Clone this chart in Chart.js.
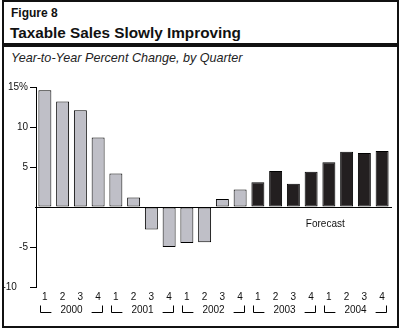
<!DOCTYPE html>
<html>
<head>
<meta charset="utf-8">
<script src="https://cdn.jsdelivr.net/npm/chart.js@4.4.1/dist/chart.umd.min.js"></script>
<style>
  html, body { margin: 0; padding: 0; background: #fff; }
  body { width: 400px; height: 331px; position: relative; overflow: hidden; font-family: "Liberation Sans", Arial, sans-serif; }
  #frame { position: absolute; left: 2px; top: 0px; width: 397px; height: 328px; box-sizing: border-box; border: 2px solid #111; }
  #fig { position: absolute; left: 11px; top: 6px; font-weight: bold; font-size: 12px; color: #111; }
  #title { position: absolute; left: 10px; top: 24px; font-weight: bold; font-size: 15.3px; color: #111; white-space: nowrap; }
  #rule { position: absolute; left: 2px; top: 43px; width: 397px; height: 4px; background: #111; }
  #sub { position: absolute; left: 11px; top: 51px; font-style: italic; font-size: 12.6px; color: #222; white-space: nowrap; }
  canvas { position: absolute; left: 0; top: 0; }
</style>
</head>
<body>
<div id="frame"></div>
<div id="fig">Figure 8</div>
<div id="title">Taxable Sales Slowly Improving</div>
<div id="rule"></div>
<div id="sub">Year-to-Year Percent Change, by Quarter</div>
<canvas id="c" width="400" height="331"></canvas>
<script>
const years = ['2000', '2001', '2002', '2003', '2004'];
const quarters = ['1', '2', '3', '4'];
const values = [14.6, 13.2, 12.1, 8.7, 4.2, 1.2, -2.8, -5.0, -4.5, -4.4, 1.0, 2.2, 3.1, 4.5, 2.9, 4.4, 5.6, 6.9, 6.75, 7.0];
const forecastStart = 12; // first forecast quarter index (2003 Q1)
const yMin = -10, yMax = 15, yStep = 5;
const forecastLabel = 'Forecast';

const labels = [];
years.forEach(() => quarters.forEach(q => labels.push(q)));

const actualColor = '#bfbfc7';
const forecastColor = '#231f20';

const decor = {
  id: 'decor',
  afterDatasetsDraw(chart) {
    const ctx = chart.ctx;
    const x = chart.scales.x, y = chart.scales.y;
    const area = chart.chartArea;
    ctx.save();
    // zero line
    const y0 = Math.round(y.getPixelForValue(0)) + 0.5;
    ctx.strokeStyle = '#000';
    ctx.lineWidth = 1;
    ctx.beginPath();
    ctx.moveTo(area.left - 1, y0);
    ctx.lineTo(area.right + 1, y0);
    ctx.stroke();
    // Forecast label
    ctx.fillStyle = '#111';
    ctx.font = '10px "Liberation Sans", Arial, sans-serif';
    ctx.textAlign = 'center';
    ctx.textBaseline = 'middle';
    ctx.fillText(forecastLabel, x.getPixelForValue(15.8), y.getPixelForValue(-2.1));
    // year brackets
    const top = 305.5, bot = 312.5, ty = 310;
    years.forEach((yr, k) => {
      const l = Math.round(x.getPixelForValue(k * 4) - 5) + 0.5;
      const r = Math.round(x.getPixelForValue(k * 4 + 3) + 4) + 0.5;
      const c = (l + r) / 2;
      const tw = ctx.measureText(yr).width;
      ctx.beginPath();
      ctx.moveTo(l, top); ctx.lineTo(l, bot); ctx.lineTo(c - tw / 2 - 9, bot);
      ctx.moveTo(c + tw / 2 + 9, bot); ctx.lineTo(r, bot); ctx.lineTo(r, top);
      ctx.stroke();
      ctx.fillText(yr, c, ty);
    });
    ctx.restore();
  }
};

new Chart(document.getElementById('c'), {
  type: 'bar',
  data: {
    labels: labels,
    datasets: [{
      data: values,
      backgroundColor: values.map((v, i) => i >= forecastStart ? forecastColor : actualColor),
      borderColor: '#000',
      borderWidth: 1,
      borderSkipped: false,
      categoryPercentage: 1,
      barPercentage: 0.73
    }]
  },
  options: {
    responsive: false,
    animation: false,
    events: [],
    layout: { padding: { left: 0, right: 9, top: 87, bottom: 0 } },
    plugins: { legend: { display: false }, tooltip: { enabled: false } },
    scales: {
      x: {
        grid: { display: false, drawTicks: false },
        border: { display: false },
        ticks: {
          color: '#111', padding: 4, maxRotation: 0, autoSkip: false,
          font: { family: '"Liberation Sans", Arial, sans-serif', size: 10 }
        },
        afterFit(s) { s.height = 44; }
      },
      y: {
        min: yMin, max: yMax,
        grid: {
          drawOnChartArea: false, drawTicks: true, tickLength: 6,
          tickColor: c => (c.tick && c.tick.value === 0) ? 'rgba(0,0,0,0)' : '#000'
        },
        border: { display: true, color: '#000', width: 1 },
        ticks: {
          stepSize: yStep, color: '#111', padding: 2,
          font: { family: '"Liberation Sans", Arial, sans-serif', size: 10 },
          callback: v => v === 0 ? '' : (v === yMax ? v + '%' : (v === yMin ? v + '    ' : String(v)))
        },
        afterFit(s) { s.width = 36; }
      }
    }
  },
  plugins: [decor]
});
</script>
</body>
</html>
